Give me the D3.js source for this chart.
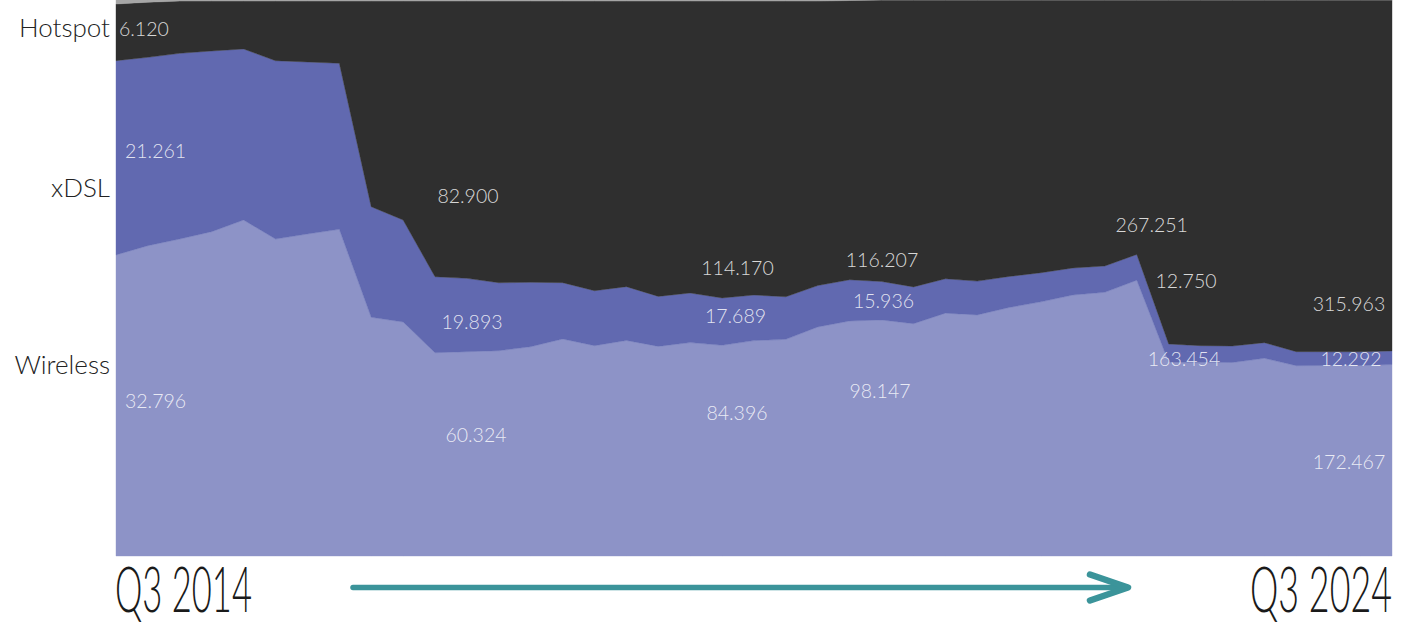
<!DOCTYPE html>
<html>
<head>
<meta charset="utf-8">
<script src="https://cdn.jsdelivr.net/npm/d3@7"></script>
<style>
  html, body { margin: 0; padding: 0; background: #ffffff; }
  svg { display: block; }
</style>
</head>
<body>
<svg id="chart" width="1407" height="626"></svg>
<script>
// ---------------- DATA (shares of total, %) ----------------
const quarters = [
  "Q3 2014","Q4 2014","Q1 2015","Q2 2015","Q3 2015","Q4 2015","Q1 2016","Q2 2016",
  "Q3 2016","Q4 2016","Q1 2017","Q2 2017","Q3 2017","Q4 2017","Q1 2018","Q2 2018",
  "Q3 2018","Q4 2018","Q1 2019","Q2 2019","Q3 2019","Q4 2019","Q1 2020","Q2 2020",
  "Q3 2020","Q4 2020","Q1 2021","Q2 2021","Q3 2021","Q4 2021","Q1 2022","Q2 2022",
  "Q3 2022","Q4 2022","Q1 2023","Q2 2023","Q3 2023","Q4 2023","Q1 2024","Q2 2024",
  "Q3 2024"
];
const wireless = [54.14,55.81,57.01,58.33,60.43,57.01,57.91,58.76,42.93,42.09,36.56,36.74,36.92,37.64,39.03,37.82,
  38.76,37.70,38.38,37.90,38.74,38.97,41.19,42.27,42.45,41.78,43.67,43.36,44.69,45.72,46.94,47.43,
  49.60,34.84,34.84,34.80,35.56,34.23,34.26,34.26,34.44];
const xdsl = [34.95,33.88,33.40,32.50,30.76,32.07,30.94,29.86,19.89,18.35,13.67,13.20,12.23,11.58,10.13,9.89,
  9.68,8.99,8.92,8.51,8.20,7.66,7.46,7.41,6.92,6.62,6.19,6.08,5.59,5.23,4.86,4.73,
  4.64,3.29,2.99,2.97,2.81,2.52,2.48,2.48,2.45];
const hotspot = [10.19,9.91,9.39,8.97,8.61,10.72,10.95,11.18,36.98,39.36,49.57,49.86,50.65,50.58,50.64,52.09,
  51.36,53.11,52.50,53.39,52.86,53.17,51.15,50.22,50.63,51.60,50.14,50.56,49.72,49.05,48.20,47.84,
  45.76,61.87,62.17,62.23,61.63,63.25,63.26,63.26,63.11];
const other = [0.72,0.40,0.20,0.20,0.20,0.20,0.20,0.20,0.20,0.20,0.20,0.20,0.20,0.20,0.20,0.20,
  0.20,0.20,0.20,0.20,0.20,0.20,0.20,0.10,0,0,0,0,0,0,0,0,
  0,0,0,0,0,0,0,0,0];

const hotspotLabels  = ["6.120","82.900","114.170","116.207","267.251","315.963"];
const xdslLabels     = ["21.261","19.893","17.689","15.936","12.750","12.292"];
const wirelessLabels = ["32.796","60.324","84.396","98.147","163.454","172.467"];
const catNames = ["Hotspot", "xDSL", "Wireless"];
const periodLabels = ["Q3 2014","Q3 2024"];

// ---------------- LAYOUT ----------------
const plot = { left: 116, right: 1392, top: 0, bottom: 556 };
const colors = { Wireless: "#8d93c7", xDSL: "#6169b0", Hotspot: "#2f2f2f", Other: "#a6a6a6" };

// label placement (pixel layout, not data)
const groupLayout = [
  { anchor: "start",  hx: 119,    hy: 36,  xx: 125,   xy: 158, wx: 125,  wy: 408 },
  { anchor: "middle", hx: 468,    hy: 203, xx: 472,   xy: 329, wx: 476,  wy: 442 },
  { anchor: "middle", hx: 737.5,  hy: 275, xx: 735.5, xy: 323, wx: 737,  wy: 420 },
  { anchor: "middle", hx: 882,    hy: 267, xx: 883.5, xy: 308, wx: 880,  wy: 398 },
  { anchor: "middle", hx: 1151.7, hy: 232, xx: 1186,  xy: 288, wx: 1184, wy: 366 },
  { anchor: "middle", hx: 1349,   hy: 311, xx: 1351,  xy: 366, wx: 1349, wy: 469 }
];
const catLayout = [ { y: 37 }, { y: 197 }, { y: 374 } ]; // Hotspot, xDSL, Wireless

// ---------------- BUILD ----------------
const svg = d3.select("#chart");

const table = quarters.map((q, i) => ({
  q, Wireless: wireless[i], xDSL: xdsl[i], Hotspot: hotspot[i], Other: other[i]
}));

const keys = ["Wireless", "xDSL", "Hotspot", "Other"];
const stacked = d3.stack().keys(keys).offset(d3.stackOffsetExpand)(table);

const x = d3.scalePoint().domain(quarters).range([plot.left, plot.right]);
const y = d3.scaleLinear().domain([0, 1]).range([plot.bottom, plot.top]);

const area = d3.area()
  .x(d => x(d.data.q))
  .y0(d => y(d[0]))
  .y1(d => y(d[1]))
  .curve(d3.curveLinear);

svg.append("g").selectAll("path")
  .data(stacked)
  .join("path")
  .attr("d", area)
  .attr("fill", d => colors[d.key])
  .attr("stroke", d => colors[d.key])
  .attr("stroke-width", 0.4);

// value labels
const valFont = "Lato, 'Open Sans', sans-serif";
const vg = svg.append("g")
  .attr("font-family", valFont)
  .attr("font-weight", 300)
  .attr("font-size", 19.5)
  .attr("fill", "rgba(255,255,255,0.82)");

groupLayout.forEach((g, i) => {
  vg.append("text").attr("x", g.hx).attr("y", g.hy).attr("text-anchor", g.anchor).text(hotspotLabels[i]);
  vg.append("text").attr("x", g.xx).attr("y", g.xy).attr("text-anchor", g.anchor).text(xdslLabels[i]);
  vg.append("text").attr("x", g.wx).attr("y", g.wy).attr("text-anchor", g.anchor).text(wirelessLabels[i]);
});

// category labels (left)
svg.append("g")
  .attr("font-family", valFont)
  .attr("font-weight", 300)
  .attr("font-size", 26)
  .attr("fill", "#222")
  .attr("text-anchor", "end")
  .selectAll("text")
  .data(catNames)
  .join("text")
  .attr("x", plot.left - 6)
  .attr("y", (d, i) => catLayout[i].y)
  .text(d => d);

// period labels (bottom) - condensed via horizontal scale
const baseline = 611.5;
const targets = [
  { x: x(quarters[0]) - 1, w: 137 },
  { x: x(quarters[quarters.length - 1]) - 142, w: 142 }
];
const pg = svg.append("g")
  .attr("font-family", "Lato, 'Liberation Sans', sans-serif")
  .attr("font-weight", 300)
  .attr("font-size", 64)
  .attr("fill", "#1a1a1a");
periodLabels.forEach((lab, i) => {
  const t = pg.append("text").attr("x", 0).attr("y", 0).text(lab);
  const len = t.node().getComputedTextLength();
  const sx = targets[i].w / len;
  t.attr("transform", `translate(${targets[i].x},${baseline}) scale(${sx},1)`);
});

// arrow
const ay = 587.5;
const ax0 = 353, ax1 = 1131;
const ag = svg.append("g")
  .attr("stroke", "#3b949a")
  .attr("fill", "none")
  .attr("stroke-linecap", "round")
  .attr("stroke-linejoin", "round");
ag.append("line").attr("x1", ax0).attr("y1", ay).attr("x2", ax1 - 4).attr("y2", ay).attr("stroke-width", 5.5);
ag.append("path")
  .attr("d", `M${ax1 - 41},${ay - 13} L${ax1 - 3},${ay} L${ax1 - 41},${ay + 13}`)
  .attr("stroke-width", 6.5);
</script>
</body>
</html>
